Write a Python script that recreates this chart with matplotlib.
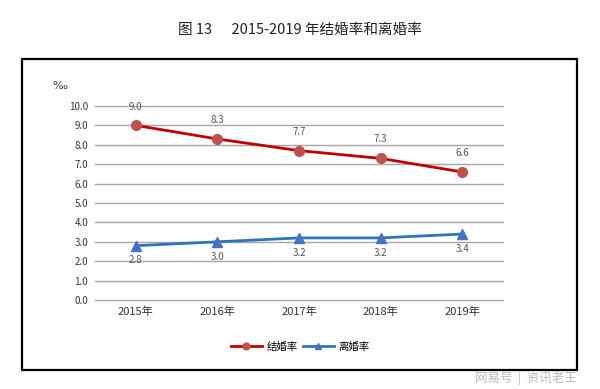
import matplotlib.pyplot as plt
from matplotlib.patches import Rectangle

plt.rcParams['font.family'] = ['Noto Sans CJK SC', 'DejaVu Sans']

years = ['2015年', '2016年', '2017年', '2018年', '2019年']
marriage = [9.0, 8.3, 7.7, 7.3, 6.6]
divorce = [2.8, 3.0, 3.2, 3.2, 3.4]
yticks = [0, 1, 2, 3, 4, 5, 6, 7, 8, 9, 10]

fig = plt.figure(figsize=(6, 3.89), dpi=100)
fig.patch.set_facecolor('white')

# outer frame
fig.patches.append(Rectangle((22 / 600, 1 - 370 / 389), 555 / 600, 311 / 389,
                             transform=fig.transFigure, fill=False,
                             edgecolor='black', linewidth=1.6))

fig.text(0.5, 1 - 30 / 389, '图 13      2015-2019 年结婚率和离婚率',
         ha='center', va='center', fontsize=10.5, color='#222222')

ax = fig.add_axes([95 / 600, 1 - 300 / 389, 408 / 600, 194 / 389])
x = list(range(len(years)))

for v in yticks:
    ax.axhline(v, color='#a6a6a6', linewidth=1, zorder=1, clip_on=False)

ax.plot(x, marriage, color='#c00000', linewidth=2, marker='o', markersize=7,
        markerfacecolor='#c0504d', markeredgecolor='#c0504d', zorder=3,
        label='结婚率')
ax.plot(x, divorce, color='#2e75b6', linewidth=2, marker='^', markersize=7,
        markerfacecolor='#4472c4', markeredgecolor='#4472c4', zorder=3,
        label='离婚率')

for xi, v in zip(x, marriage):
    ax.annotate(f'{v:.1f}', (xi, v), xytext=(0, 10), textcoords='offset points',
                ha='center', va='bottom', fontsize=7, color='#555555')
for xi, v in zip(x, divorce):
    ax.annotate(f'{v:.1f}', (xi, v), xytext=(0, -7), textcoords='offset points',
                ha='center', va='top', fontsize=7, color='#555555')

ax.set_xlim(-0.5, len(years) - 0.5)
ax.set_ylim(0, 10)
ax.set_yticks(yticks)
ax.set_yticklabels([f'{v:.1f}' for v in yticks], fontsize=7, color='#333333')
ax.set_xticks(x)
ax.set_xticklabels(years, fontsize=8, color='#333333')
ax.tick_params(length=0, pad=5)
for s in ax.spines.values():
    s.set_visible(False)

fig.text(60 / 600, 1 - 86 / 389, '‰', ha='center', va='center', fontsize=8,
         color='#333333', family='DejaVu Sans')

fig.legend(loc='center', bbox_to_anchor=(0.5, 1 - 347 / 389), ncol=2,
           frameon=False, fontsize=7.5, handlelength=3, columnspacing=0.5,
           handletextpad=0.4, markerscale=0.7)

fig.text(577 / 600, 1 - 378 / 389, '网易号  |  资讯老王', ha='right', va='center',
         fontsize=9, color='#bbbbbb')

fig.savefig('out.png', dpi=100)
